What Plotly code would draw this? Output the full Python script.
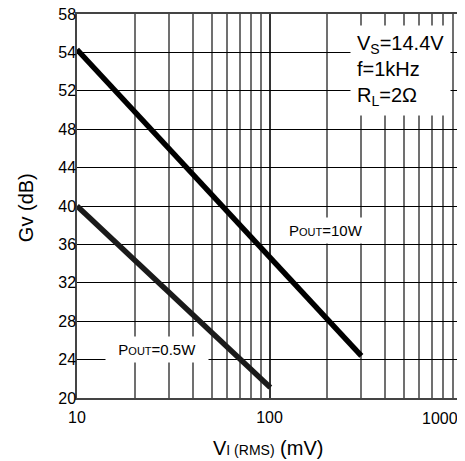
import plotly.graph_objects as go

# Data (y in axis units; ticks labelled as on the original sheet)
vi_10w = [10, 300]
gv_10w = [56.3, 24.4]
vi_05w = [10, 101]
gv_05w = [40.0, 21.1]

y_tickvals = [20, 24, 28, 32, 36, 40, 44, 48, 52, 56, 60]
y_ticktext = ["20", "24", "28", "32", "36", "40", "44", "48", "52", "54", "58"]
x_major = [10, 100, 1000]
x_major_text = ["10", "100", ""]
x_minor = [20, 30, 40, 50, 60, 70, 80, 90, 200, 300, 400, 500, 600, 700, 800, 900]

FONT = "Liberation Sans, Arial, sans-serif"
PAGE_OFFSET = 8  # default body margin of the html page

fig = go.Figure()
fig.add_trace(go.Scatter(x=vi_10w, y=gv_10w, mode="lines",
                         line=dict(color="#000000", width=5.5), showlegend=False))
fig.add_trace(go.Scatter(x=vi_05w, y=gv_05w, mode="lines",
                         line=dict(color="#1a1a1a", width=5.5), showlegend=False))

fig.update_layout(
    width=465 - PAGE_OFFSET, height=461 - PAGE_OFFSET,
    margin=dict(l=77 - PAGE_OFFSET, r=3, t=14 - PAGE_OFFSET, b=63,
                autoexpand=False),
    paper_bgcolor="white", plot_bgcolor="white",
    font=dict(family=FONT, color="#000000", size=16),
    showlegend=False,
)

fig.update_xaxes(
    type="log", range=[1, 3], automargin=False,
    tickmode="array", tickvals=x_major, ticktext=x_major_text,
    showgrid=True, gridcolor="#333333", gridwidth=1.5,
    minor=dict(tickmode="array", tickvals=x_minor, showgrid=True,
               gridcolor="#707070", gridwidth=1.5),
    showline=True, linecolor="#444444", linewidth=1.5, mirror=True,
    ticks="", ticklabelstandoff=4, ticklabeloverflow="allow",
    tickfont=dict(size=16),
    zeroline=False,
)
fig.update_yaxes(
    range=[20, 60], automargin=False,
    tickmode="array", tickvals=y_tickvals, ticktext=y_ticktext,
    showgrid=True, gridcolor="#000000", gridwidth=1,
    showline=True, linecolor="#444444", linewidth=1.5, mirror=True,
    ticks="", ticklabelstandoff=-4, ticklabeloverflow="allow",
    tickfont=dict(size=16),
    zeroline=False,
)

# Axis titles
fig.add_annotation(x=-0.1325, y=0.497, xref="paper", yref="paper",
                   text="Gv (dB)", textangle=-90, showarrow=False,
                   xanchor="center", yanchor="middle", font=dict(size=20))
fig.add_annotation(x=0.496, y=-0.130, xref="paper", yref="paper",
                   text="V<span style='font-size:14px'>I (RMS)</span> (mV)",
                   showarrow=False, xanchor="center", yanchor="middle",
                   font=dict(size=20))

# "1000" label right-aligned to plot edge
fig.add_annotation(x=3, y=0, xref="x", yref="paper", text="1000",
                   showarrow=False, xanchor="right", yanchor="top",
                   yshift=-10, xshift=-2, font=dict(size=16))

# Condition box
fig.add_annotation(
    x=0.709, y=0.971, xref="paper", yref="paper",
    text="V<sub>S</sub>=14.4V<br>f=1kHz<br>R<sub>L</sub>=2Ω",
    showarrow=False, xanchor="left", yanchor="top", align="left",
    bgcolor="white", borderpad=6, font=dict(size=20),
)

# Curve labels
fig.add_annotation(
    x=2.295, y=37.4, xref="x", yref="y",
    text="P<span style='font-size:11px'>OUT</span>=10W",
    showarrow=False, bgcolor="white", borderpad=4, font=dict(size=15),
)
fig.add_annotation(
    x=1.415, y=25.1, xref="x", yref="y",
    text="  P<span style='font-size:11px'>OUT</span>=0.5W  ",
    showarrow=False, bgcolor="white", borderpad=4, font=dict(size=15),
)

fig.write_html("out.html")
